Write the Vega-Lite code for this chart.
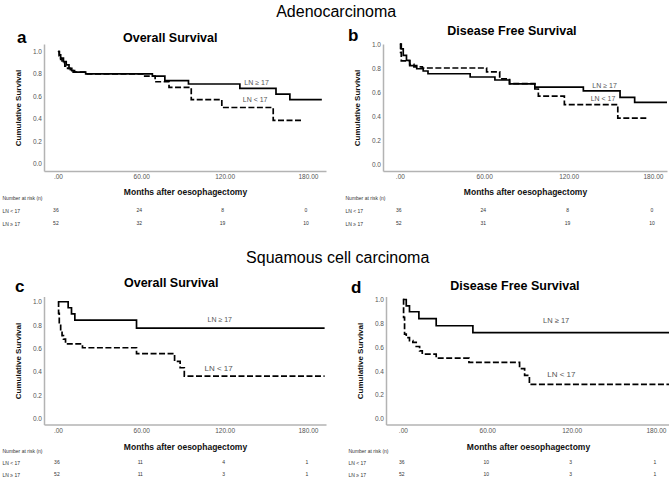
{
"$schema": "https://vega.github.io/schema/vega-lite/v6.json",
"background": "white",
"padding": {"left": 2, "top": 4, "right": 0, "bottom": 0},
"spacing": 19.5,
"datasets": {
"a_curve": [
{"g":"LN ≥ 17","t":0,"s":1},{"g":"LN ≥ 17","t":1,"s":0.97},{"g":"LN ≥ 17","t":2,"s":0.94},{"g":"LN ≥ 17","t":4,"s":0.91},{"g":"LN ≥ 17","t":6,"s":0.88},{"g":"LN ≥ 17","t":8,"s":0.85},{"g":"LN ≥ 17","t":10,"s":0.83},{"g":"LN ≥ 17","t":12,"s":0.815},{"g":"LN ≥ 17","t":20,"s":0.8},{"g":"LN ≥ 17","t":68,"s":0.78},{"g":"LN ≥ 17","t":77,"s":0.74},{"g":"LN ≥ 17","t":94,"s":0.71},{"g":"LN ≥ 17","t":131,"s":0.67},{"g":"LN ≥ 17","t":157,"s":0.62},{"g":"LN ≥ 17","t":167,"s":0.57},{"g":"LN ≥ 17","t":190,"s":0.57},
{"g":"LN < 17","t":0,"s":1},{"g":"LN < 17","t":1,"s":0.96},{"g":"LN < 17","t":2,"s":0.93},{"g":"LN < 17","t":3,"s":0.9},{"g":"LN < 17","t":5,"s":0.87},{"g":"LN < 17","t":7,"s":0.85},{"g":"LN < 17","t":9,"s":0.83},{"g":"LN < 17","t":11,"s":0.815},{"g":"LN < 17","t":20,"s":0.8},{"g":"LN < 17","t":62.5,"s":0.78},{"g":"LN < 17","t":70,"s":0.73},{"g":"LN < 17","t":80,"s":0.68},{"g":"LN < 17","t":96,"s":0.57},{"g":"LN < 17","t":118,"s":0.5},{"g":"LN < 17","t":155,"s":0.385},{"g":"LN < 17","t":176,"s":0.385}
],
"b_curve": [
{"g":"LN ≥ 17","t":0,"s":1},{"g":"LN ≥ 17","t":1,"s":0.96},{"g":"LN ≥ 17","t":2.4,"s":0.905},{"g":"LN ≥ 17","t":4.7,"s":0.863},{"g":"LN ≥ 17","t":7,"s":0.82},{"g":"LN ≥ 17","t":12,"s":0.794},{"g":"LN ≥ 17","t":16.6,"s":0.775},{"g":"LN ≥ 17","t":20,"s":0.752},{"g":"LN ≥ 17","t":50,"s":0.725},{"g":"LN ≥ 17","t":67.6,"s":0.7},{"g":"LN ≥ 17","t":78,"s":0.667},{"g":"LN ≥ 17","t":96,"s":0.64},{"g":"LN ≥ 17","t":130.5,"s":0.61},{"g":"LN ≥ 17","t":156.6,"s":0.555},{"g":"LN ≥ 17","t":167,"s":0.513},{"g":"LN ≥ 17","t":190,"s":0.513},
{"g":"LN < 17","t":0,"s":1},{"g":"LN < 17","t":0.5,"s":0.93},{"g":"LN < 17","t":1,"s":0.86},{"g":"LN < 17","t":7,"s":0.83},{"g":"LN < 17","t":10,"s":0.81},{"g":"LN < 17","t":16,"s":0.8},{"g":"LN < 17","t":61.7,"s":0.767},{"g":"LN < 17","t":71,"s":0.71},{"g":"LN < 17","t":78,"s":0.67},{"g":"LN < 17","t":96,"s":0.625},{"g":"LN < 17","t":98.5,"s":0.565},{"g":"LN < 17","t":117,"s":0.495},{"g":"LN < 17","t":155,"s":0.383},{"g":"LN < 17","t":176.7,"s":0.383}
],
"c_curve": [
{"g":"LN ≥ 17","t":0,"s":1},{"g":"LN ≥ 17","t":7.4,"s":0.949},{"g":"LN ≥ 17","t":9.8,"s":0.897},{"g":"LN ≥ 17","t":12.2,"s":0.843},{"g":"LN ≥ 17","t":56.6,"s":0.775},{"g":"LN ≥ 17","t":192,"s":0.775},
{"g":"LN < 17","t":0,"s":1},{"g":"LN < 17","t":0.5,"s":0.9},{"g":"LN < 17","t":1,"s":0.81},{"g":"LN < 17","t":2,"s":0.75},{"g":"LN < 17","t":3,"s":0.71},{"g":"LN < 17","t":4,"s":0.68},{"g":"LN < 17","t":5.5,"s":0.64},{"g":"LN < 17","t":17.7,"s":0.607},{"g":"LN < 17","t":56.6,"s":0.557},{"g":"LN < 17","t":84,"s":0.49},{"g":"LN < 17","t":88,"s":0.436},{"g":"LN < 17","t":91,"s":0.364},{"g":"LN < 17","t":192,"s":0.364}
],
"d_curve": [
{"g":"LN ≥ 17","t":0,"s":1},{"g":"LN ≥ 17","t":2.4,"s":0.947},{"g":"LN ≥ 17","t":4.7,"s":0.897},{"g":"LN ≥ 17","t":11.4,"s":0.84},{"g":"LN ≥ 17","t":23.7,"s":0.78},{"g":"LN ≥ 17","t":49.8,"s":0.723},{"g":"LN ≥ 17","t":190,"s":0.723},
{"g":"LN < 17","t":0,"s":1},{"g":"LN < 17","t":0.5,"s":0.85},{"g":"LN < 17","t":1.2,"s":0.71},{"g":"LN < 17","t":2.4,"s":0.68},{"g":"LN < 17","t":4.7,"s":0.655},{"g":"LN < 17","t":7.1,"s":0.64},{"g":"LN < 17","t":9.5,"s":0.606},{"g":"LN < 17","t":11.9,"s":0.57},{"g":"LN < 17","t":13.8,"s":0.542},{"g":"LN < 17","t":23.7,"s":0.508},{"g":"LN < 17","t":47,"s":0.472},{"g":"LN < 17","t":83,"s":0.42},{"g":"LN < 17","t":86.6,"s":0.364},{"g":"LN < 17","t":90,"s":0.288},{"g":"LN < 17","t":190,"s":0.288}
],
"a_lab": [{"g":"LN ≥ 17","t":143,"s":0.717},{"g":"LN < 17","t":142,"s":0.563}],
"b_lab": [{"g":"LN ≥ 17","t":145.6,"s":0.65},{"g":"LN < 17","t":144.5,"s":0.54}],
"c_lab": [{"g":"LN ≥ 17","t":116.5,"s":0.84},{"g":"LN < 17","t":115.7,"s":0.427}],
"d_lab": [{"g":"LN ≥ 17","t":109,"s":0.818},{"g":"LN < 17","t":112.7,"s":0.363}],
"a_risk": [{"row":"LN < 17","t":0,"n":36},{"row":"LN < 17","t":60,"n":24},{"row":"LN < 17","t":120,"n":8},{"row":"LN < 17","t":180,"n":0},{"row":"LN ≥ 17","t":0,"n":52},{"row":"LN ≥ 17","t":60,"n":32},{"row":"LN ≥ 17","t":120,"n":19},{"row":"LN ≥ 17","t":180,"n":10}],
"b_risk": [{"row":"LN < 17","t":0,"n":36},{"row":"LN < 17","t":60,"n":24},{"row":"LN < 17","t":120,"n":8},{"row":"LN < 17","t":180,"n":0},{"row":"LN ≥ 17","t":0,"n":52},{"row":"LN ≥ 17","t":60,"n":31},{"row":"LN ≥ 17","t":120,"n":19},{"row":"LN ≥ 17","t":180,"n":10}],
"c_risk": [{"row":"LN < 17","t":0,"n":36},{"row":"LN < 17","t":60,"n":11},{"row":"LN < 17","t":120,"n":4},{"row":"LN < 17","t":180,"n":1},{"row":"LN ≥ 17","t":0,"n":52},{"row":"LN ≥ 17","t":60,"n":11},{"row":"LN ≥ 17","t":120,"n":3},{"row":"LN ≥ 17","t":180,"n":1}],
"d_risk": [{"row":"LN < 17","t":0,"n":36},{"row":"LN < 17","t":60,"n":10},{"row":"LN < 17","t":120,"n":3},{"row":"LN < 17","t":180,"n":1},{"row":"LN ≥ 17","t":0,"n":52},{"row":"LN ≥ 17","t":60,"n":10},{"row":"LN ≥ 17","t":120,"n":3},{"row":"LN ≥ 17","t":180,"n":1}]
},
"vconcat": [
{
"title": {"text": "Adenocarcinoma", "anchor": "middle", "fontSize": 16, "fontWeight": "normal", "offset": 4.5},
"spacing": 19,
"hconcat": [
{
"title": {"text": "a", "anchor": "start", "fontSize": 17, "fontWeight": "bold", "dx": 15, "dy": 14.5, "offset": 0},
"bounds": "flush", "spacing": 19.5,
"vconcat": [
{"width": 282, "height": 127,
"title": {"text": "Overall Survival", "fontSize": 12.5, "fontWeight": "bold", "anchor": "middle", "frame": "bounds", "offset": -0.5},
"data": {"name": "a_curve"},
"layer": [
{"mark": {"type": "line", "interpolate": "step-after", "color": "#000", "strokeWidth": 1.7},
"encoding": {
"x": {"field": "t", "type": "quantitative", "scale": {"domain": [-10, 193], "nice": false, "zero": false}, "axis": {"values": [0, 60, 120, 180], "labelExpr": "datum.value == 0 ? '.00' : format(datum.value, '.2f')", "title": "Months after oesophagectomy"}},
"y": {"field": "s", "type": "quantitative", "scale": {"domain": [-0.067, 1.067], "nice": false, "zero": false}, "axis": {"values": [0, 0.2, 0.4, 0.6, 0.8, 1], "tickCount": 10, "format": ".1f", "title": "Cumulative Survival"}},
"strokeDash": {"field": "g", "type": "nominal", "scale": {"domain": ["LN < 17", "LN ≥ 17"], "range": [[6, 2.5], [1, 0]]}, "legend": null}}},
{"data": {"name": "a_lab"}, "mark": {"type": "text", "fontSize": 7, "color": "#555"},
"encoding": {"x": {"field": "t", "type": "quantitative"}, "y": {"field": "s", "type": "quantitative"}, "text": {"field": "g"}}}
]},
{"width": 282, "height": 39, "data": {"name": "a_risk"},
"mark": {"type": "text", "fontSize": 5, "color": "#333", "dx": -2},
"encoding": {
"x": {"field": "t", "type": "quantitative", "scale": {"domain": [-10, 193], "nice": false, "zero": false}, "axis": null},
"y": {"field": "row", "type": "ordinal", "scale": {"domain": ["Number at risk (n)", "LN < 17", "LN ≥ 17"]}, "axis": {"title": null, "domain": false, "ticks": false, "tickSize": 0, "labelAlign": "left", "labelPadding": 42, "labelFontSize": 5, "labelColor": "#333"}},
"text": {"field": "n"}}}
]
},
{
"title": {"text": "b", "anchor": "start", "fontSize": 17, "fontWeight": "bold", "dx": 3, "dy": 20, "offset": 0},
"bounds": "flush", "spacing": 19.5,
"vconcat": [
{"width": 284, "height": 127,
"title": {"text": "Disease Free Survival", "fontSize": 12.5, "fontWeight": "bold", "anchor": "middle", "frame": "bounds", "offset": -0.5, "dy": -4},
"data": {"name": "b_curve"},
"layer": [
{"mark": {"type": "line", "interpolate": "step-after", "color": "#000", "strokeWidth": 1.7},
"encoding": {
"x": {"field": "t", "type": "quantitative", "scale": {"domain": [-12, 190], "nice": false, "zero": false}, "axis": {"values": [0, 60, 120, 180], "labelExpr": "datum.value == 0 ? '.00' : format(datum.value, '.2f')", "title": "Months after oesophagectomy"}},
"y": {"field": "s", "type": "quantitative", "scale": {"domain": [-0.058, 1.0], "nice": false, "zero": false}, "axis": {"values": [0, 0.2, 0.4, 0.6, 0.8, 1], "tickCount": 10, "format": ".1f", "title": "Cumulative Survival"}},
"strokeDash": {"field": "g", "type": "nominal", "scale": {"domain": ["LN < 17", "LN ≥ 17"], "range": [[6, 2.5], [1, 0]]}, "legend": null}}},
{"data": {"name": "b_lab"}, "mark": {"type": "text", "fontSize": 7, "color": "#555"},
"encoding": {"x": {"field": "t", "type": "quantitative"}, "y": {"field": "s", "type": "quantitative"}, "text": {"field": "g"}}}
]},
{"width": 284, "height": 39, "data": {"name": "b_risk"},
"mark": {"type": "text", "fontSize": 5, "color": "#333", "dx": -1},
"encoding": {
"x": {"field": "t", "type": "quantitative", "scale": {"domain": [-12, 190], "nice": false, "zero": false}, "axis": null},
"y": {"field": "row", "type": "ordinal", "scale": {"domain": ["Number at risk (n)", "LN < 17", "LN ≥ 17"]}, "axis": {"title": null, "domain": false, "ticks": false, "tickSize": 0, "labelAlign": "left", "labelPadding": 38, "labelFontSize": 5, "labelColor": "#333"}},
"text": {"field": "n"}}}
]
}
]
},
{
"title": {"text": "Squamous cell carcinoma", "anchor": "middle", "fontSize": 16, "fontWeight": "normal", "offset": 11.5},
"spacing": 19,
"hconcat": [
{
"title": {"text": "c", "anchor": "start", "fontSize": 17, "fontWeight": "bold", "dx": 13, "dy": 19, "offset": 0},
"bounds": "flush", "spacing": 19.5,
"vconcat": [
{"width": 282, "height": 128,
"title": {"text": "Overall Survival", "fontSize": 12.5, "fontWeight": "bold", "anchor": "middle", "frame": "bounds", "offset": 6.8},
"data": {"name": "c_curve"},
"layer": [
{"mark": {"type": "line", "interpolate": "step-after", "color": "#000", "strokeWidth": 1.7},
"encoding": {
"x": {"field": "t", "type": "quantitative", "scale": {"domain": [-10, 193], "nice": false, "zero": false}, "axis": {"values": [0, 60, 120, 180], "labelExpr": "datum.value == 0 ? '.00' : format(datum.value, '.2f')", "title": "Months after oesophagectomy", "titlePadding": 9}},
"y": {"field": "s", "type": "quantitative", "scale": {"domain": [-0.049, 1.045], "nice": false, "zero": false}, "axis": {"values": [0, 0.2, 0.4, 0.6, 0.8, 1], "tickCount": 10, "format": ".1f", "title": "Cumulative Survival"}},
"strokeDash": {"field": "g", "type": "nominal", "scale": {"domain": ["LN < 17", "LN ≥ 17"], "range": [[6, 2.5], [1, 0]]}, "legend": null}}},
{"data": {"name": "c_lab"}, "transform": [{"filter": "datum.g == 'LN ≥ 17'"}], "mark": {"type": "text", "fontSize": 7, "color": "#555"},
"encoding": {"x": {"field": "t", "type": "quantitative"}, "y": {"field": "s", "type": "quantitative"}, "text": {"field": "g"}}},
{"data": {"name": "c_lab"}, "transform": [{"filter": "datum.g == 'LN < 17'"}], "mark": {"type": "text", "fontSize": 8, "color": "#555"},
"encoding": {"x": {"field": "t", "type": "quantitative"}, "y": {"field": "s", "type": "quantitative"}, "text": {"field": "g"}}}
]},
{"width": 282, "height": 36, "data": {"name": "c_risk"},
"mark": {"type": "text", "fontSize": 5, "color": "#333", "dx": -1},
"encoding": {
"x": {"field": "t", "type": "quantitative", "scale": {"domain": [-10, 193], "nice": false, "zero": false}, "axis": null},
"y": {"field": "row", "type": "ordinal", "scale": {"domain": ["Number at risk (n)", "LN < 17", "LN ≥ 17"]}, "axis": {"title": null, "domain": false, "ticks": false, "tickSize": 0, "labelAlign": "left", "labelPadding": 42, "labelFontSize": 5, "labelColor": "#333"}},
"text": {"field": "n"}}}
]
},
{
"title": {"text": "d", "anchor": "start", "fontSize": 17, "fontWeight": "bold", "dx": 3, "dy": 17, "offset": 0},
"bounds": "flush", "spacing": 19.5,
"vconcat": [
{"width": 284, "height": 128,
"title": {"text": "Disease Free Survival", "fontSize": 12.5, "fontWeight": "bold", "anchor": "middle", "frame": "bounds", "offset": 3.8},
"data": {"name": "d_curve"},
"layer": [
{"mark": {"type": "line", "interpolate": "step-after", "color": "#000", "strokeWidth": 1.7},
"encoding": {
"x": {"field": "t", "type": "quantitative", "scale": {"domain": [-12, 190], "nice": false, "zero": false}, "axis": {"values": [0, 60, 120, 180], "labelExpr": "datum.value == 0 ? '.00' : format(datum.value, '.2f')", "title": "Months after oesophagectomy", "titlePadding": 9}},
"y": {"field": "s", "type": "quantitative", "scale": {"domain": [-0.048, 1.025], "nice": false, "zero": false}, "axis": {"values": [0, 0.2, 0.4, 0.6, 0.8, 1], "tickCount": 10, "format": ".1f", "title": "Cumulative Survival"}},
"strokeDash": {"field": "g", "type": "nominal", "scale": {"domain": ["LN < 17", "LN ≥ 17"], "range": [[6, 2.5], [1, 0]]}, "legend": null}}},
{"data": {"name": "d_lab"}, "transform": [{"filter": "datum.g == 'LN ≥ 17'"}], "mark": {"type": "text", "fontSize": 7.5, "color": "#555"},
"encoding": {"x": {"field": "t", "type": "quantitative"}, "y": {"field": "s", "type": "quantitative"}, "text": {"field": "g"}}},
{"data": {"name": "d_lab"}, "transform": [{"filter": "datum.g == 'LN < 17'"}], "mark": {"type": "text", "fontSize": 8, "color": "#555"},
"encoding": {"x": {"field": "t", "type": "quantitative"}, "y": {"field": "s", "type": "quantitative"}, "text": {"field": "g"}}}
]},
{"width": 284, "height": 36, "data": {"name": "d_risk"},
"mark": {"type": "text", "fontSize": 5, "color": "#333", "dx": -1},
"encoding": {
"x": {"field": "t", "type": "quantitative", "scale": {"domain": [-12, 190], "nice": false, "zero": false}, "axis": null},
"y": {"field": "row", "type": "ordinal", "scale": {"domain": ["Number at risk (n)", "LN < 17", "LN ≥ 17"]}, "axis": {"title": null, "domain": false, "ticks": false, "tickSize": 0, "labelAlign": "left", "labelPadding": 38, "labelFontSize": 5, "labelColor": "#333"}},
"text": {"field": "n"}}}
]
}
]
}
],
"config": {
"font": "Liberation Sans",
"view": {"stroke": null},
"title": {"color": "#000"},
"axis": {"grid": false, "ticks": false, "labelOverlap": false, "domainColor": "#b3b3b3", "domainWidth": 1.5, "labelFontSize": 6.5, "labelColor": "#555", "labelPadding": 2.5, "titleFontSize": 8.5, "titleFontWeight": "bold", "titleColor": "#111"},
"axisX": {"titlePadding": 7},
"axisY": {"titlePadding": 10, "titleFontSize": 8}
}
}
